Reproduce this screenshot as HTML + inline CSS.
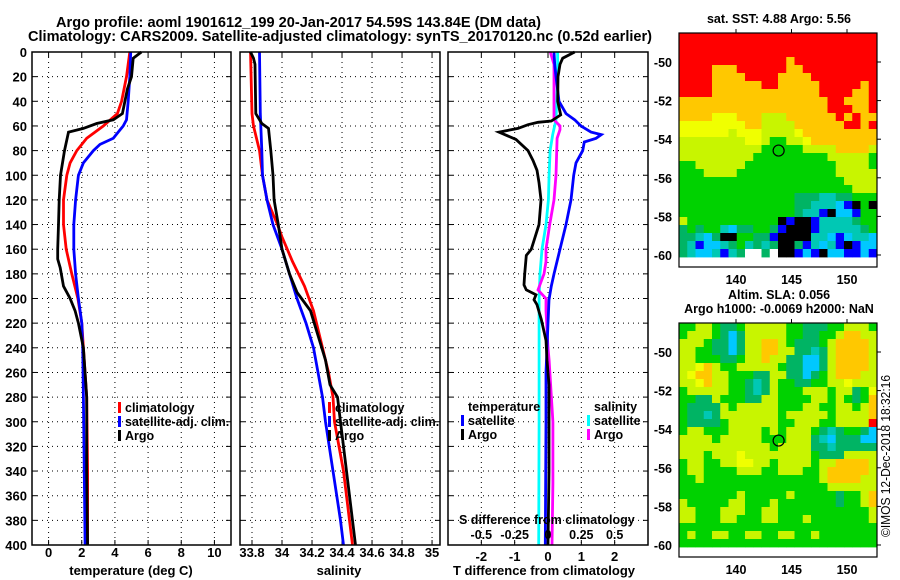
<!DOCTYPE html>
<html><head><meta charset="utf-8">
<style>
html,body{margin:0;padding:0;background:#fff;}
svg{display:block;font-family:"Liberation Sans",Arial,sans-serif;}
.b{font-weight:bold;}
</style></head>
<body>
<svg id="fig" width="900" height="580" viewBox="0 0 900 580" xmlns="http://www.w3.org/2000/svg">
<text class="b" x="56" y="27" font-size="14.5" textLength="485" lengthAdjust="spacingAndGlyphs">Argo profile: aoml 1901612_199 20-Jan-2017 54.59S 143.84E (DM data)</text>
<text class="b" x="28" y="41" font-size="14.5" textLength="624" lengthAdjust="spacingAndGlyphs">Climatology: CARS2009. Satellite-adjusted climatology: synTS_20170120.nc (0.52d earlier)</text>
<g id="p1"></g>
<g id="p2"></g>
<g id="p3"></g>
<g id="m1"></g>
<g id="m2"></g>
<text x="0" y="0" font-size="12.5" transform="translate(890,537) rotate(-90)" textLength="162" lengthAdjust="spacingAndGlyphs">©IMOS 12-Dec-2018 18:32:16</text>
</svg>
<script>
// ---------- data ----------
const depthTicks=[0,20,40,60,80,100,120,140,160,180,200,220,240,260,280,300,320,340,360,380,400];
const tempTicks=[0,2,4,6,8,10];
const salTicks=[33.8,34,34.2,34.4,34.6,34.8,35];
const salTickLabels=["33.8","34","34.2","34.4","34.6","34.8","35"];
const tdTicks=[-2,-1,0,1,2];
const sdTicks=[-0.5,-0.25,0,0.25,0.5];
const sdTickLabels=["-0.5","-0.25","0","0.25","0.5"];

const argoTempDepth=[0,5,20,30,50,55,58,62,65,80,100,120,140,160,168,175,190,195,200,210,220,240,280,340,400];
const argoTemp=[5.6,5.1,5.0,4.75,4.45,3.9,2.9,2.1,1.2,0.96,0.72,0.64,0.6,0.55,0.55,0.7,0.9,1.1,1.3,1.6,1.8,2.1,2.3,2.3,2.35];
const climTempDepth=[0,20,40,50,60,70,80,90,100,120,140,160,180,200,220,240,280,340,400];
const climTemp=[4.9,4.7,4.4,4.15,3.3,2.3,1.7,1.3,1.1,0.9,0.9,1.06,1.4,1.77,2.0,2.1,2.3,2.35,2.35];
const satTempDepth=[0,20,40,55,60,65,70,75,80,90,100,120,140,160,180,200,220,240,280,400];
const satTemp=[4.95,4.9,4.8,4.7,4.5,4.2,3.9,3.1,2.7,2.1,1.8,1.63,1.52,1.52,1.63,1.8,2.0,2.06,2.1,2.2];

const argoSalDepth=[0,5,10,50,58,62,80,100,120,140,160,180,195,200,210,230,250,270,280,300,340,380,400];
const argoSal=[33.79,33.81,33.82,33.825,33.865,33.91,33.925,33.94,33.947,33.975,34.0,34.05,34.1,34.13,34.19,34.24,34.29,34.32,34.37,34.39,34.43,34.47,34.49];
const climSalDepth=[0,50,60,70,80,100,120,140,150,170,190,210,230,260,280,300,340,380,400];
const climSal=[33.79,33.8,33.81,33.83,33.85,33.87,33.9,33.97,34.0,34.07,34.15,34.21,34.25,34.31,34.34,34.35,34.41,34.45,34.47];
const satSalDepth=[0,50,80,100,120,140,160,180,200,220,240,260,280,300,340,380,400];
const satSal=[33.85,33.855,33.865,33.87,33.9,33.94,34.0,34.05,34.1,34.16,34.21,34.24,34.27,34.29,34.34,34.39,34.41];

const dArgoTDepth=[0,5,10,20,40,51,56,57,59,62,65,71,80,88,96,106,120,140,160,165,180,189,193,197,201,205,217,234,250,270,300,340,400];
const dArgoT=[0.8,0.44,0.36,0.3,0.29,0.38,0.1,-0.3,-0.6,-0.9,-1.47,-0.96,-0.6,-0.45,-0.33,-0.27,-0.21,-0.27,-0.5,-0.65,-0.7,-0.72,-0.65,-0.36,-0.42,-0.33,-0.2,-0.06,-0.03,0.03,0.03,0.03,0];
const dSatTDepth=[0,10,20,40,50,55,60,65,67,70,73,80,90,100,120,140,160,180,190,201,220,260,300,400];
const dSatT=[0.18,0.2,0.24,0.33,0.54,0.8,0.99,1.29,1.6,1.44,1.09,1.04,0.84,0.77,0.69,0.54,0.36,0.18,0.1,0.03,0,-0.06,-0.06,-0.08];
const dArgoSDepth=[0,10,40,55,60,63,70,100,120,140,160,170,180,193,200,210,240,250,300,350,400];
const dArgoS=[0.017,0.045,0.045,0.045,0.09,0.09,0.068,0.06,0.045,0.013,-0.015,-0.015,-0.03,-0.075,-0.015,-0.015,0,0.008,0.037,0.037,0.03];
const dSatSDepth=[0,20,40,55,67,80,100,120,140,160,180,200,250,300,400];
const dSatS=[0.072,0.072,0.065,0.06,0.035,0.016,0.008,0.003,-0.015,-0.045,-0.06,-0.067,-0.067,-0.067,-0.07];

const lonTicks=[140,145,150];
const latTicks=[-50,-52,-54,-56,-58,-60];
const argoLon=143.84, argoLat=-54.59;
const sstGrid=[
"RRRRRRRRRRRRRRRRRRRRRRRR",
"RRRRRRRRRRRRRRRRRRRRRRRR",
"RRRRRRRRRRRRRRRRRRRRRRRR",
"RRRRRRRRRRRRRORRRRRRRRRR",
"RRRROOORRRRRROORRRRRRRRR",
"RRRROOOORRRROOOORRRRRRRR",
"RRRROOOOOORROOOOORRRRROR",
"RRRROOOOOOOOOOOOORRRROOR",
"OOOOOOOOOOOOOOOOOORROOOR",
"OOOOOOOOOOOOOOOOOORRROOR",
"OOOOYYYOOOLLLOOOOOOROROO",
"YYYYYYYYOOLLLLOOOOOORROR",
"YYYYYYLYYYLLLLYOOOOOOOOO",
"LLLLLLLLYYLGGLLYOOOOOOOO",
"LLLLLLLLLLGGGGGLLLLOOOOL",
"LLLLLLLLLGGGGGGGGGLLLLLG",
"GGLLLLLLGGGGGGGGGGGLLLLG",
"GGGLLLLGGGGGGGGGGGGLLLLL",
"GGGGGGGGGGGGGGGGGGGGLLLL",
"GGGGGGGGGGGGGGGGGGGGGLLL",
"GGGGGGGGGGGGGGDDDTTDDGGG",
"GGGGGGGGGGGGGGDDTTTCBKGK",
"GGGGGGGGGGGGGGDTTBKCCBGG",
"LGGGGGGGGGGGKBKKBTTTTDGG",
"DGDGGTCDDGGDBKKKBTTTTTDG",
"DDTCDKKGGDDBKKKKTTCBCTTC",
"DTBCCTDGTDTDKKDBTCTBKBCC",
"DTCCTBTDWWDWKKBCBKCCBBCB"];
const slaGrid=[
"GGLLGDDGLLLLLGGDDDGGLLLG",
"GLLLGDCDLLLLLGGDDGGLOOLL",
"LLLGDDCDLLOOLGDDDGLOOOOL",
"LLGGDDCDLLOOLLDDTDLOOOOL",
"LLGGGDDGLLOLLDDCCDLOOOOL",
"LLYOLGGLLLLLGDDCCDLOOOOL",
"LYOOLLGGGDDLLDDCDGLOOOLL",
"LLYOLLGGDTDLGGDDGGLLYLLL",
"GLLLLLGGDTDLGGGLLLGLLDGY",
"GGDDLGGGDDLLGGGGLLGLGDGO",
"GDDDDLGLLLLLGGGLLGGLLGLO",
"GDDTDLLLLLLLGLLLLLGLLLLO",
"GDDDDGLLLLLLGGLLLGGLLLLR",
"GLLGGGLLLLGLGLLLGDTDGGDC",
"LLLLGLLLLLGGGLLLDTCDDDCC",
"LLLLLLLLLLLGLLLLDDTDDDDD",
"LLLGLLLYLLLLLLLLGDDDLLLL",
"GLLGGLLYYLLGLLLLGLLOOOOL",
"GLLGGGGLLLGGLLLGGLOOOOOL",
"GGLGGGGGGGGGGGGGGLOOOOLL",
"GGGGGGGGGGGGGGGGGGLLLLLL",
"GGGGGGGLGGGGGLGGGGGDGGLO",
"LGGGGGLLGGGLGGGGGGGDGGLO",
"LLGGGLLLGGLLGGGGGGGGGGGL",
"LLGGGLLGGGLLGGGLGGGGGGGL",
"GGGGGGGGGGGGGGGGGGGGGGGG",
"GLGGLLGGLLGGLLGGLGGGGGGG",
"GGGGGGGGGGGGGGGGGGGGGGGG"];
const colorKey={R:"#ff0000",O:"#ffc800",Y:"#f0ff00",L:"#c8f500",G:"#00d200",D:"#00b464",T:"#00c8b4",C:"#00c8ff",B:"#0000ff",K:"#000000",W:"#ffffff"};

// ---------- helpers ----------
const NS="http://www.w3.org/2000/svg";
function mk(parent,tag,attrs,txt){const e=document.createElementNS(NS,tag);for(const k in attrs)e.setAttribute(k,attrs[k]);if(txt!==undefined)e.textContent=txt;parent.appendChild(e);return e;}
const yTop=52,yBot=545,dMax=400;
const yD=d=>yTop+(yBot-yTop)*d/dMax;

function panel(g,x0,x1,xmin,xmax,xticks,xlabels,labY,showY){
  const sx=v=>x0+(x1-x0)*(v-xmin)/(xmax-xmin);
  depthTicks.forEach(d=>{
    const y=yD(d);
    const gl=mk(g,'line',{x1:x0,x2:x1,y1:y,y2:y,stroke:'#000','stroke-width':1,'stroke-dasharray':'1,4'});
    
    
    mk(g,'line',{x1:x0,x2:x0+5,y1:y,y2:y,stroke:'#000'});
    mk(g,'line',{x1:x1-5,x2:x1,y1:y,y2:y,stroke:'#000'});
    if(showY){
      const t=mk(g,'text',{x:27,y:y+5,'text-anchor':'end','font-size':13,'class':'b'},String(d));
      
      
    }
  });
  xticks.forEach((v,i)=>{
    const x=sx(v);
    const gl=mk(g,'line',{x1:x,x2:x,y1:yTop,y2:yBot,stroke:'#000','stroke-width':1,'stroke-dasharray':'1,4'});
    
    
    mk(g,'line',{x1:x,x2:x,y1:yTop,y2:yTop+5,stroke:'#000'});
    mk(g,'line',{x1:x,x2:x,y1:yBot-5,y2:yBot,stroke:'#000'});
    const t=mk(g,'text',{x:x,y:labY,'text-anchor':'middle','font-size':13,'class':'b'},xlabels[i]);
    
    
  });
  return sx;
}
function frame(g,x0,x1){
  const r=mk(g,'rect',{x:x0,y:yTop,width:x1-x0,height:yBot-yTop,fill:'none',stroke:'#000','stroke-width':1.5});
  
  
}
function series(g,sx,vals,depths,color,name){
  const pts=vals.map((v,i)=>sx(v).toFixed(1)+','+yD(depths[i]).toFixed(1)).join(' ');
  const p=mk(g,'polyline',{points:pts,fill:'none',stroke:color,'stroke-width':2.8,'stroke-linejoin':'miter'});
  
  
}
function legend(g,x,y,color,label){
  const r=mk(g,'rect',{x:x,y:y-10,width:3,height:11,fill:color});
  
  
  const t=mk(g,'text',{x:x+7,y:y,'font-size':12.5,'class':'b'},label);
  
  
}

// ---------- panel 1 ----------
const p1=document.getElementById('p1');
const sx1=panel(p1,32,231,-1,11,tempTicks,tempTicks.map(String),557,true);
series(p1,sx1,climTemp,climTempDepth,'#ff0000','climatology-temp-line');
series(p1,sx1,satTemp,satTempDepth,'#0000ff','satellite-temp-line');
series(p1,sx1,argoTemp,argoTempDepth,'#000000','argo-temp-line');
frame(p1,32,231);
legend(p1,118,412,'#ff0000','climatology');
legend(p1,118,426,'#0000ff','satellite-adj. clim.');
legend(p1,118,440,'#000000','Argo');
let t=mk(p1,'text',{x:131,y:575,'text-anchor':'middle','font-size':13,'class':'b'},'temperature (deg C)');



// ---------- panel 2 ----------
const p2=document.getElementById('p2');
const sx2=panel(p2,240,440,33.72,35.053,salTicks,salTickLabels,557,false);
series(p2,sx2,climSal,climSalDepth,'#ff0000','climatology-sal-line');
series(p2,sx2,satSal,satSalDepth,'#0000ff','satellite-sal-line');
series(p2,sx2,argoSal,argoSalDepth,'#000000','argo-sal-line');
frame(p2,240,440);
legend(p2,328,412,'#ff0000','climatology');
legend(p2,328,426,'#0000ff','satellite-adj. clim.');
legend(p2,328,440,'#000000','Argo');
t=mk(p2,'text',{x:339,y:575,'text-anchor':'middle','font-size':13,'class':'b'},'salinity');



// ---------- panel 3 ----------
const p3=document.getElementById('p3');
const sx3=panel(p3,448,648,-3,3,tdTicks,tdTicks.map(String),561,false);
const sxS=v=>sx3(v*4);
series(p3,sxS,dSatS,dSatSDepth,'#00ffff','satellite-sal-diff-line');
series(p3,sxS,dArgoS,dArgoSDepth,'#ff00ff','argo-sal-diff-line');
series(p3,sx3,dSatT,dSatTDepth,'#0000ff','satellite-temp-diff-line');
series(p3,sx3,dArgoT,dArgoTDepth,'#000000','argo-temp-diff-line');
frame(p3,448,648);
t=mk(p3,'text',{x:468,y:411,'font-size':12.5,'class':'b'},'temperature');


legend(p3,461,425,'#0000ff','satellite');
legend(p3,461,439,'#000000','Argo');
t=mk(p3,'text',{x:594,y:411,'font-size':12.5,'class':'b'},'salinity');


legend(p3,587,425,'#00ffff','satellite');
legend(p3,587,439,'#ff00ff','Argo');
t=mk(p3,'text',{x:459,y:524,'font-size':12.5,'class':'b'},'S difference from climatology');


sdTicks.forEach((v,i)=>{
  const tt=mk(p3,'text',{x:sxS(v),y:539,'text-anchor':'middle','font-size':12.5,'class':'b'},sdTickLabels[i]);
  
  
});
t=mk(p3,'text',{x:544,y:575,'text-anchor':'middle','font-size':13,'class':'b'},'T difference from climatology');



// ---------- maps ----------
function map(g,top,grid,titles){
  const x0=679,x1=877,y1=top+234,dataBot=top+224;
  const lonX=l=>736+(l-140)*11.1;
  const latY=l=>top+29+(-50-l)*19.3;
  const rows=grid.length,cols=grid[0].length;
  const cw=(x1-x0)/cols,ch=(dataBot-top)/rows;
  for(let r=0;r<rows;r++)for(let c=0;c<cols;c++){
    const cell=mk(g,'rect',{x:(x0+c*cw).toFixed(2),y:(top+r*ch).toFixed(2),width:(cw+0.4).toFixed(2),height:(ch+0.4).toFixed(2),fill:colorKey[grid[r][c]]});
    
    
  }
  const fr=mk(g,'rect',{x:x0,y:top,width:x1-x0,height:y1-top,fill:'none',stroke:'#000','stroke-width':1.2});
  
  
  latTicks.forEach(l=>{
    const y=latY(l);
    mk(g,'line',{x1:x1,x2:x1+4,y1:y,y2:y,stroke:'#000'});
    const tl=mk(g,'text',{x:672,y:y+5,'text-anchor':'end','font-size':12.5,'class':'b'},String(l));
    
    
  });
  lonTicks.forEach(l=>{
    const x=lonX(l);
    mk(g,'line',{x1:x,x2:x,y1:top,y2:top-4,stroke:'#000'});
    const tl=mk(g,'text',{x:x,y:y1+17,'text-anchor':'middle','font-size':12.5,'class':'b'},String(l));
    
    
  });
  const cc=mk(g,'circle',{cx:lonX(argoLon),cy:latY(argoLat),r:5.5,fill:'none',stroke:'#000','stroke-width':1.2});
  
  
  titles.forEach((s,i)=>{
    const tl=mk(g,'text',{x:779,y:titles.length===1?top-10:top-24+i*14,'text-anchor':'middle','font-size':12.5,'class':'b'},s);
    
    
  });
}
map(document.getElementById('m1'),33,sstGrid,['sat. SST: 4.88 Argo: 5.56']);
map(document.getElementById('m2'),323,slaGrid,['Altim. SLA: 0.056','Argo h1000: -0.0069 h2000: NaN']);
</script>
</body></html>
